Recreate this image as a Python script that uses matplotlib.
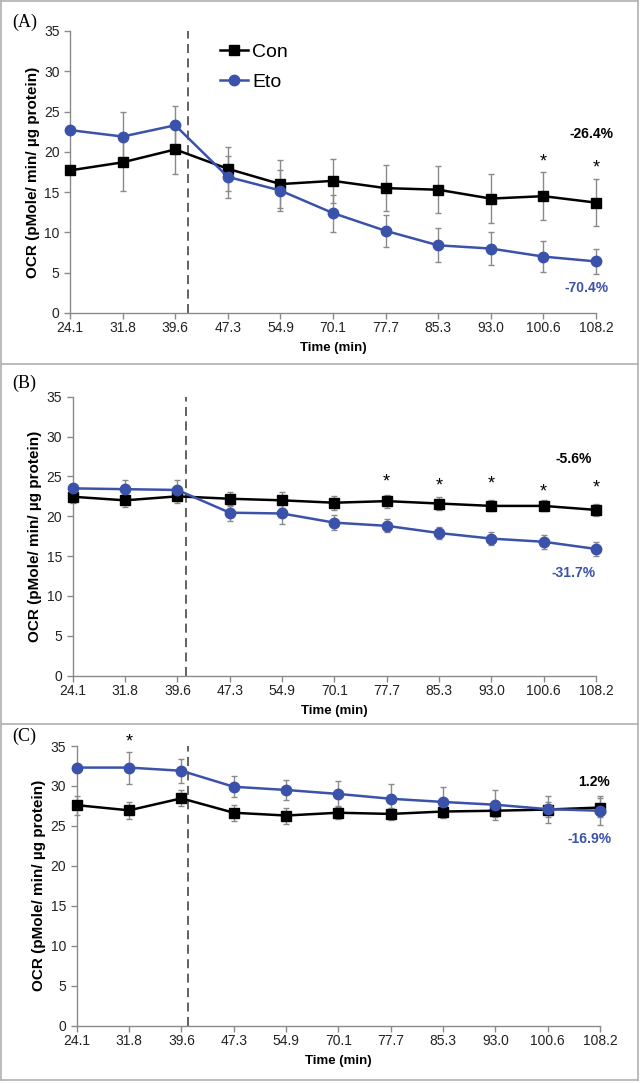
import numpy as np
import matplotlib
matplotlib.use("Agg")
import matplotlib.pyplot as plt
from matplotlib.lines import Line2D

plt.rcParams['font.family'] = ['Liberation Sans', 'DejaVu Sans']

# time points (categorical axis)
times = ["24.1", "31.8", "39.6", "47.3", "54.9", "70.1", "77.7", "85.3", "93.0", "100.6", "108.2"]

# panel A
a_con = [17.7, 18.7, 20.3, 17.9, 16.0, 16.4, 15.5, 15.3, 14.2, 14.5, 13.7]
a_con_err = [0.4, 3.5, 3.1, 2.7, 3.0, 2.7, 2.9, 2.9, 3.0, 3.0, 2.9]
a_eto = [22.7, 21.9, 23.3, 16.9, 15.2, 12.4, 10.2, 8.4, 8.0, 7.0, 6.4]
a_eto_err = [0.4, 3.1, 2.4, 2.6, 2.5, 2.3, 2.0, 2.1, 2.0, 1.9, 1.6]
a_stars = [(9, 18.8), (10, 18.0)]
a_pct = [("-26.4%", 9.92, 22.2), ("-70.4%", 9.82, 3.1)]

# panel B
b_con = [22.45, 22.0, 22.5, 22.2, 22.0, 21.7, 21.9, 21.6, 21.3, 21.3, 20.8]
b_con_err = [0.8, 0.8, 0.8, 0.9, 1.0, 0.9, 0.8, 0.8, 0.7, 0.7, 0.8]
b_eto = [23.5, 23.4, 23.3, 20.45, 20.35, 19.2, 18.8, 17.9, 17.2, 16.8, 15.9]
b_eto_err = [0.5, 1.1, 1.3, 1.0, 1.3, 0.9, 0.8, 0.8, 0.8, 0.9, 0.9]
b_stars = [(6, 24.3), (7, 23.8), (8, 24.05), (9, 23.0), (10, 23.5)]
b_pct = [("-5.6%", 9.58, 27.2), ("-31.7%", 9.57, 12.85)]

# panel C
c_con = [27.6, 26.95, 28.45, 26.65, 26.3, 26.65, 26.5, 26.8, 26.9, 27.05, 27.3]
c_con_err = [1.2, 1.1, 1.0, 1.0, 1.0, 0.8, 0.8, 0.8, 0.8, 0.9, 1.2]
c_eto = [32.3, 32.3, 31.9, 29.9, 29.5, 29.0, 28.4, 28.0, 27.65, 27.1, 26.9]
c_eto_err = [0.3, 2.0, 1.5, 1.3, 1.3, 1.6, 1.9, 1.9, 1.85, 1.7, 1.8]
c_stars = [(1, 35.5)]
c_pct = [("1.2%", 9.89, 30.5), ("-16.9%", 9.8, 23.3)]

BLUE = "#3b52ab"
GREY = "#8a8a8a"

W, H = 640, 1083
fig = plt.figure(figsize=(W / 100, H / 100), dpi=100)


def px_axes(x0, x1, y0, y1):
    # y0 = pixel row of value 0, y1 = pixel row of value 35
    return fig.add_axes([x0 / W, (H - y0) / H, (x1 - x0) / W, (y0 - y1) / H])


def draw_panel(ax, con, con_err, eto, eto_err, stars, pct, vline, legend=False):
    x = np.arange(len(times))
    for vals, err in [(con, con_err), (eto, eto_err)]:
        eb = ax.errorbar(x, vals, yerr=err, fmt='none', ecolor=GREY, elinewidth=1,
                         capsize=2.2, capthick=1, zorder=2)
        for art in eb.lines[1] + eb.lines[2]:
            art.set_clip_on(False)
    ax.plot(x, con, color='black', lw=1.8, marker='s', ms=7.5, label='Con', zorder=3, clip_on=False)
    ax.plot(x, eto, color=BLUE, lw=1.8, marker='o', ms=7.5, label='Eto', zorder=3, clip_on=False)
    ax.axvline(vline, color='#555555', lw=1.3, ls=(0, (5, 3)), zorder=1)

    ax.set_xlim(0, len(times) - 1)
    ax.set_ylim(0, 35)
    ax.set_yticks(range(0, 36, 5))
    ax.set_xticks(x)
    ax.set_xticklabels(times)
    for s in ['top', 'right']:
        ax.spines[s].set_visible(False)
    for s in ['left', 'bottom']:
        ax.spines[s].set_color(GREY)
        ax.spines[s].set_linewidth(1)
    ax.tick_params(axis='both', direction='out', length=4, width=1, color=GREY,
                   labelsize=10, labelcolor='#222222', pad=2)
    ax.tick_params(axis='y', pad=3.5)
    ax.set_ylabel("OCR (pMole/ min/ \u00b5g protein)", fontsize=11, fontweight='bold', labelpad=3)
    ax.set_xlabel("Time (min)", fontsize=9.5, fontweight='bold', labelpad=5)

    for i, y in stars:
        ax.text(i, y, "*", ha='center', va='center', fontsize=13, clip_on=False)
    ax.text(pct[0][1], pct[0][2], pct[0][0], ha='center', va='center', fontsize=10,
            fontweight='bold', color='black')
    ax.text(pct[1][1], pct[1][2], pct[1][0], ha='center', va='center', fontsize=10,
            fontweight='bold', color=BLUE)

    if legend:
        ax.legend(loc='upper left', bbox_to_anchor=(0.285, 0.955), frameon=False,
                  fontsize=14, handlelength=1.45, handletextpad=0.2,
                  labelspacing=0.6, borderpad=0, borderaxespad=0)


axA = px_axes(70, 596, 313, 31)
draw_panel(axA, a_con, a_con_err, a_eto, a_eto_err, a_stars, a_pct, 2.24, legend=True)
axB = px_axes(72.7, 596, 675.7, 396.7)
draw_panel(axB, b_con, b_con_err, b_eto, b_eto_err, b_stars, b_pct, 2.16)
axC = px_axes(76.7, 600, 1025.7, 746)
draw_panel(axC, c_con, c_con_err, c_eto, c_eto_err, c_stars, c_pct, 2.12)

# panel labels
for lab, ypx in [("(A)", 22), ("(B)", 383), ("(C)", 736)]:
    fig.text(12 / W, 1 - ypx / H, lab, fontsize=13, family='Liberation Serif', va='center', ha='left')

# panel frames
frame = dict(color='#b0b0b0', lw=1.2, transform=fig.transFigure)
for yp in [1, 364, 724, 1080]:
    fig.add_artist(Line2D([1 / W, 638 / W], [1 - yp / H, 1 - yp / H], **frame))
for xp in [1, 638]:
    fig.add_artist(Line2D([xp / W, xp / W], [1 - 1 / H, 1 - 1080 / H], **frame))

fig.savefig("out.png", dpi=100)
